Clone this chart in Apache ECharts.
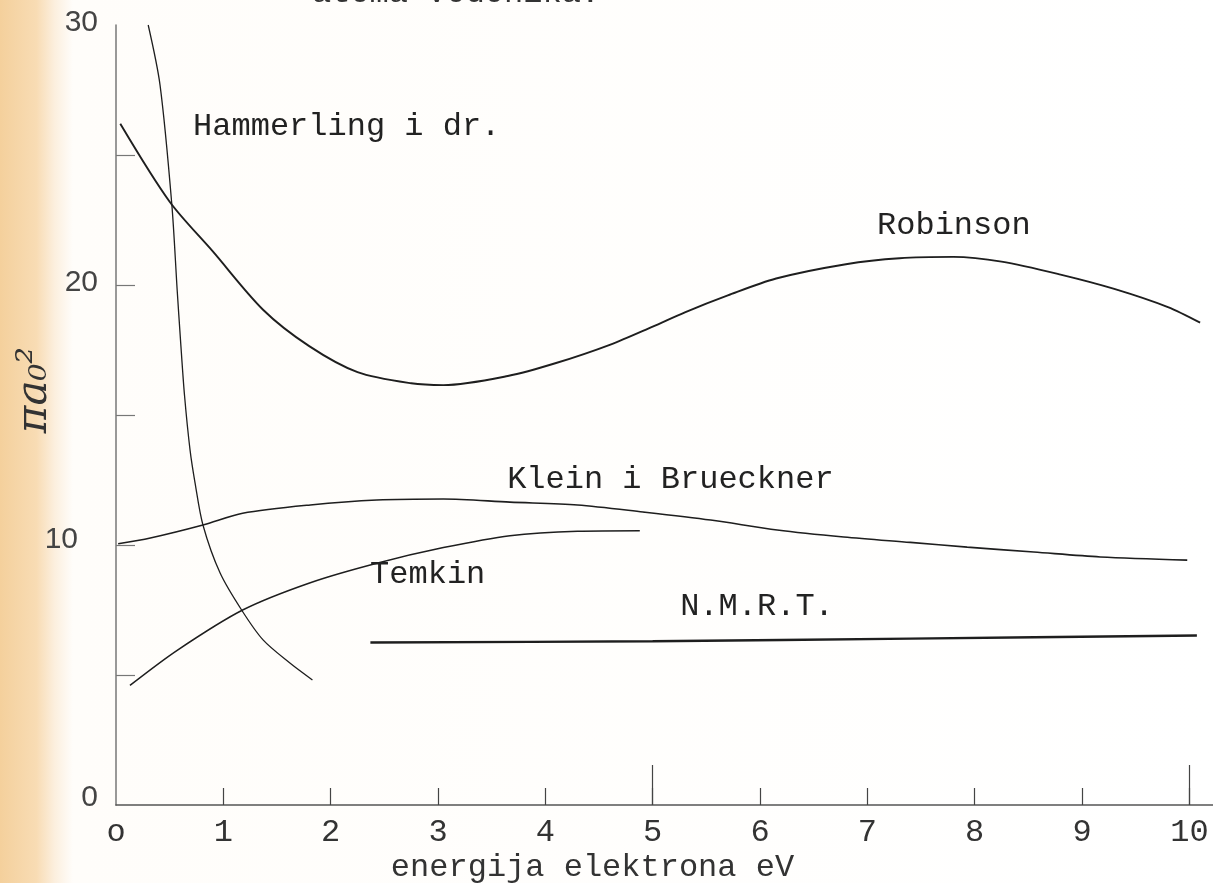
<!DOCTYPE html>
<html>
<head>
<meta charset="utf-8">
<script src="https://cdn.jsdelivr.net/npm/echarts@6/dist/echarts.min.js"></script>
<style>
  html, body { margin: 0; padding: 0; background: #fff; }
  #chart { width: 1213px; height: 883px; }
</style>
</head>
<body>
<div id="chart"></div>
<script>
// Cross sections (units of πa₀²) versus electron energy (eV), [energy, value]
const robinson = [[0.04,26.2],[0.5,23.2],[0.9,21.3],[1.37,19.05],[1.8,17.65],[2.25,16.65],[2.75,16.22],[3.05,16.15],[3.65,16.5],[4.1,17.0],[4.6,17.7],[5.0,18.4],[5.3,18.95],[5.7,19.6],[6.15,20.25],[6.8,20.8],[7.3,21.03],[7.8,21.08],[8.25,20.9],[8.8,20.4],[9.3,19.85],[9.8,19.15],[10.1,18.55]];
const hammerling = [[0.3,30],[0.41,27.7],[0.52,23.1],[0.57,19.8],[0.601,17.88],[0.638,15.77],[0.69,13.65],[0.736,12.4],[0.81,10.77],[0.97,8.92],[1.17,7.5],[1.37,6.35],[1.62,5.46],[1.83,4.81]];
const kleinBrueckner = [[0.02,10.05],[0.32,10.27],[0.81,10.77],[1.18,11.22],[1.81,11.54],[2.43,11.73],[3.05,11.77],[3.67,11.65],[4.3,11.54],[4.91,11.27],[5.54,10.96],[6.16,10.58],[6.78,10.31],[7.4,10.1],[7.93,9.92],[8.55,9.73],[9.17,9.54],[9.98,9.42]];
const temkin = [[0.13,4.6],[0.57,5.95],[1.18,7.5],[1.81,8.55],[2.43,9.3],[3.05,9.9],[3.67,10.36],[4.3,10.53],[4.88,10.55]];
const nmrt = [[2.37,6.25],[5.0,6.3],[7.4,6.4],[10.07,6.52]];

// Axis ticks and labels
const xTickValues = [1,2,3,4,5,6,7,8,9,10];
const xLongTickValues = [5,10];
const xLabelValues = [0,1,2,3,4,5,6,7,8,9,10];
const yTickValues = [5,10,15,20,25];
const yLabelValues = [0,10,20,30];

// Curve names and where each name is typed, in data coordinates
const seriesNames = ['Robinson','Hammerling i dr.','Klein i Brueckner','Temkin','N.M.R.T.'];
const nameAnchors = [[7.09,22.27],[0.718,26.08],[3.644,12.5],[2.367,8.85],[5.256,7.615]];

const TYPE_FONT = 'Liberation Mono';
const INK = '#1e1e1e';

const chart = echarts.init(document.getElementById('chart'), null, { renderer: 'canvas' });

function curve(name, data, width, anchor, smooth) {
  return {
    type: 'line',
    name: name,
    data: data,
    showSymbol: false,
    symbol: 'none',
    smooth: smooth,
    silent: true,
    lineStyle: { color: INK, width: width },
    markPoint: {
      symbol: 'circle',
      symbolSize: 0,
      silent: true,
      data: [{ coord: anchor, name: name }],
      label: {
        show: true,
        position: 'right',
        distance: 0,
        formatter: '{b}',
        fontFamily: TYPE_FONT,
        fontSize: 32,
        color: '#222'
      }
    }
  };
}

chart.setOption({
  animation: false,
  backgroundColor: {
    type: 'linear', x: 0, y: 0, x2: 1, y2: 0,
    colorStops: [
      { offset: 0, color: '#f4d09c' },
      { offset: 0.03, color: '#f8dcb4' },
      { offset: 0.045, color: '#fcefde' },
      { offset: 0.06, color: '#fffdfa' },
      { offset: 1, color: '#ffffff' }
    ]
  },
  title: {
    text: 'atoma vodonika.',
    left: 312,
    top: -22,
    padding: 0,
    textStyle: { fontFamily: TYPE_FONT, fontSize: 32, fontWeight: 'normal', color: '#333' }
  },
  grid: { left: 116, right: 0, top: 25, bottom: 78, containLabel: false, outerBoundsMode: 'none' },
  xAxis: [{
    type: 'value',
    min: 0,
    max: 10.22,
    splitLine: { show: false },
    axisLine: { show: true, onZero: false, lineStyle: { color: '#555', width: 1.6 } },
    axisTick: { show: true, inside: true, length: 17, customValues: xTickValues, lineStyle: { color: '#444', width: 1.2 } },
    axisLabel: {
      show: true,
      customValues: xLabelValues,
      formatter: v => (v === 0 ? 'o' : String(v)),
      fontFamily: TYPE_FONT,
      fontSize: 32,
      color: '#333',
      margin: 12
    },
    name: 'energija elektrona eV',
    nameLocation: 'middle',
    nameGap: 47,
    nameMoveOverlap: false,
    nameTextStyle: { fontFamily: TYPE_FONT, fontSize: 32, color: '#333', padding: [0, 144, 0, 0] }
  }, {
    type: 'value',
    min: 0,
    max: 10.22,
    position: 'bottom',
    splitLine: { show: false },
    axisLine: { show: false },
    axisLabel: { show: false },
    axisTick: { show: true, inside: true, length: 40, customValues: xLongTickValues, lineStyle: { color: '#444', width: 1.2 } }
  }],
  yAxis: {
    type: 'value',
    min: 0,
    max: 30,
    splitLine: { show: false },
    axisLine: { show: true, onZero: false, lineStyle: { color: '#777', width: 1.5 } },
    axisTick: { show: true, inside: true, length: 19, customValues: yTickValues, lineStyle: { color: '#777', width: 1.2 } },
    axisLabel: {
      show: true,
      customValues: yLabelValues,
      margin: 18,
      formatter: v => (v === 10 ? '{s|10}' : v === 0 ? '{z|0}' : '{n|' + v + '}'),
      rich: {
        n: { fontFamily: 'Liberation Sans', fontSize: 30, color: '#444', padding: [0, 0, 4, 0] },
        s: { fontFamily: 'Liberation Sans', fontSize: 30, color: '#444', padding: [0, 20, 10, 0] },
        z: { fontFamily: 'Liberation Sans', fontSize: 30, color: '#444', padding: [0, 0, 14, 0] }
      }
    },
    name: 'πa₀²',
    nameLocation: 'middle',
    nameRotate: 90,
    nameGap: 60,
    nameMoveOverlap: false,
    nameTextStyle: { fontFamily: 'DejaVu Serif', fontStyle: 'italic', fontSize: 42, color: '#333', padding: [0, 0, 0, 50] }
  },
  series: [
    curve(seriesNames[0], robinson, 1.9, nameAnchors[0], 0.3),
    curve(seriesNames[1], hammerling, 1.3, nameAnchors[1], 0.3),
    curve(seriesNames[2], kleinBrueckner, 1.6, nameAnchors[2], 0.3),
    curve(seriesNames[3], temkin, 1.5, nameAnchors[3], 0.3),
    curve(seriesNames[4], nmrt, 2.4, nameAnchors[4], 0.3)
  ]
});
</script>
</body>
</html>
